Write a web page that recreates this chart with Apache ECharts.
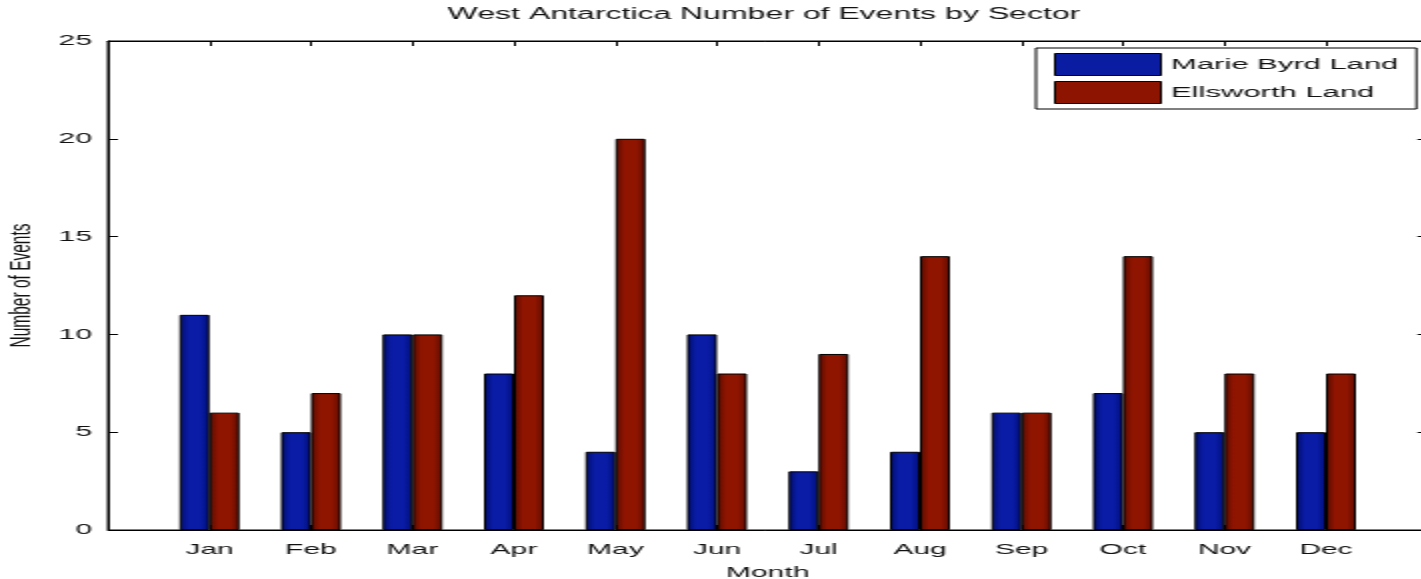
<!DOCTYPE html>
<html>
<head>
<meta charset="utf-8">
<title>West Antarctica Number of Events by Sector</title>
<script src="https://cdn.jsdelivr.net/npm/echarts@6/dist/echarts.min.js"></script>
<style>
  html, body { margin: 0; padding: 0; background: #fff; overflow: hidden; }
  /* The figure is laid out at half width and stretched 2x horizontally */
  #chart { width: 710.5px; height: 579px; transform: scaleX(2); transform-origin: 0 0; }
</style>
</head>
<body>
<div id="chart"></div>
<script>
const months = ['Jan', 'Feb', 'Mar', 'Apr', 'May', 'Jun', 'Jul', 'Aug', 'Sep', 'Oct', 'Nov', 'Dec'];
const marieByrdLand = [11, 5, 10, 8, 4, 10, 3, 4, 6, 7, 5, 5];
const ellsworthLand = [6, 7, 10, 12, 20, 8, 9, 14, 6, 14, 8, 8];
const yTicks = [0, 5, 10, 15, 20, 25];

// x runs from 0 to 13 with the months at 1..12, so pad both ends
const xCats = [''].concat(months, ['']);
const pad = arr => [null].concat(arr, [null]);

const FONT = '"Liberation Sans", Arial, Helvetica, sans-serif';

function shade(edge, mid, edge2) {
  return new echarts.graphic.LinearGradient(0, 0, 1, 0, [
    { offset: 0, color: edge },
    { offset: 0.3, color: mid },
    { offset: 0.7, color: mid },
    { offset: 1, color: edge2 }
  ]);
}

const chart = echarts.init(document.getElementById('chart'), null, { renderer: 'canvas' });

const common = {
  axisLine: { show: true, onZero: false, lineStyle: { color: '#000', width: 1 } },
  axisTick: { show: true, inside: true, length: 5, lineStyle: { color: '#000', width: 1 } },
  splitLine: { show: false }
};

chart.setOption({
  animation: false,
  backgroundColor: '#fff',
  title: {
    text: 'West Antarctica Number of Events by Sector',
    left: 377,
    textAlign: 'center',
    top: 2,
    textStyle: { fontFamily: FONT, fontSize: 16, fontWeight: 'normal', color: '#111' }
  },
  legend: {
    orient: 'vertical',
    left: 518,
    top: 48,
    padding: [5, 9, 5, 9],
    itemWidth: 53,
    itemHeight: 22,
    itemGap: 5,
    backgroundColor: '#fff',
    borderColor: '#000',
    borderWidth: 1,
    borderRadius: 0,
    textStyle: { fontFamily: FONT, fontSize: 15.5, color: '#111' },
    data: [
      { name: 'Marie Byrd Land', icon: 'rect', itemStyle: { color: '#0a1ca2', borderColor: '#000', borderWidth: 1 } },
      { name: 'Ellsworth Land', icon: 'rect', itemStyle: { color: '#8c1400', borderColor: '#000', borderWidth: 1 } }
    ]
  },
  grid: {
    left: 54, top: 41, width: 659.75, height: 489,
    containLabel: false, outerBoundsMode: 'none',
    show: true, borderColor: '#000', borderWidth: 1, backgroundColor: 'transparent'
  },
  xAxis: [
    Object.assign({}, common, {
      type: 'category',
      data: xCats,
      boundaryGap: false,
      position: 'bottom',
      name: 'Month',
      nameLocation: 'middle',
      nameGap: 35,
      nameTextStyle: { fontFamily: FONT, fontSize: 15, color: '#111' },
      axisLabel: { show: true, interval: 0, margin: 12, fontFamily: FONT, fontSize: 15, color: '#111' }
    }),
    Object.assign({}, common, {
      type: 'category',
      data: xCats,
      boundaryGap: false,
      position: 'top',
      axisLabel: { show: false }
    })
  ],
  yAxis: [
    Object.assign({}, common, {
      type: 'value',
      min: yTicks[0],
      max: yTicks[yTicks.length - 1],
      interval: 5,
      position: 'left',
      name: 'Number of Events',
      nameLocation: 'middle',
      nameRotate: 90,
      nameGap: 31.5,
      nameTextStyle: { fontFamily: FONT, fontSize: 15.5, color: '#111' },
      axisLabel: { show: true, margin: 8, fontFamily: FONT, fontSize: 15, color: '#111' }
    }),
    Object.assign({}, common, {
      type: 'value',
      min: yTicks[0],
      max: yTicks[yTicks.length - 1],
      interval: 5,
      position: 'right',
      axisLabel: { show: false }
    })
  ],
  series: [
    {
      name: 'Marie Byrd Land',
      type: 'bar',
      xAxisIndex: 0,
      yAxisIndex: 0,
      barWidth: 15,
      barGap: '0%',
      data: pad(marieByrdLand),
      itemStyle: { color: shade('#000c6c', '#0a1ca6', '#000e78'), borderColor: '#000', borderWidth: 1 }
    },
    {
      name: 'Ellsworth Land',
      type: 'bar',
      xAxisIndex: 0,
      yAxisIndex: 0,
      barWidth: 15,
      barGap: '0%',
      data: pad(ellsworthLand),
      itemStyle: { color: shade('#5a0b00', '#8f1500', '#5e0c00'), borderColor: '#000', borderWidth: 1 }
    }
  ]
});
</script>
</body>
</html>
